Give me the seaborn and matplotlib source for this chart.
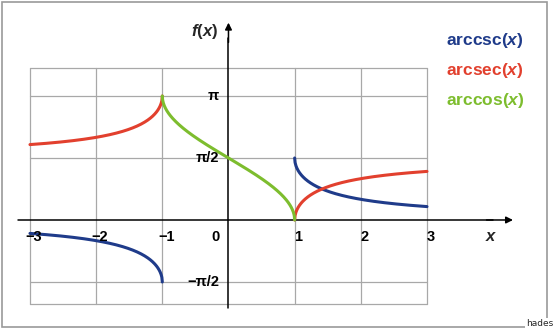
import numpy as np
import pandas as pd
import matplotlib
matplotlib.use("Agg")
import matplotlib.pyplot as plt
from matplotlib.patches import Rectangle
import seaborn as sns

sns.set_style("white")
plt.rcParams["font.family"] = ["Liberation Sans", "DejaVu Sans"]
plt.rcParams["mathtext.fontset"] = "custom"
plt.rcParams["mathtext.it"] = "Liberation Sans:bold:italic"
plt.rcParams["mathtext.rm"] = "Liberation Sans:bold"

# ---- data -------------------------------------------------------------
x_ticks = [-3, -2, -1, 1, 2, 3]
x_tick_labels = ["\u22123", "\u22122", "\u22121", "1", "2", "3"]
y_ticks = [np.pi, np.pi / 2, -np.pi / 2]
y_tick_labels = ["\u03c0", "\u03c0/2", "\u2212\u03c0/2"]
func_names = ["arccsc", "arcsec", "arccos"]
func_colors = ["#1f3b8a", "#e2402e", "#7dbd2e"]
x_neg = np.linspace(-3, -1, 300)   # |x| >= 1, left branch
x_pos = np.linspace(1, 3, 300)     # |x| >= 1, right branch
x_mid = np.linspace(-1, 1, 400)    # arccos domain


def arccsc(x):
    return np.arcsin(1.0 / x)


def arcsec(x):
    return np.arccos(1.0 / x)


segments = pd.DataFrame({
    "x": np.concatenate([x_neg, x_pos, x_neg, x_pos, x_mid]),
    "y": np.concatenate([arccsc(x_neg), arccsc(x_pos),
                         arcsec(x_neg), arcsec(x_pos), np.arccos(x_mid)]),
    "seg": np.repeat(["csc_l", "csc_r", "sec_l", "sec_r", "cos"],
                     [300, 300, 300, 300, 400]),
})
seg_colors = {"csc_l": func_colors[0], "csc_r": func_colors[0],
              "sec_l": func_colors[1], "sec_r": func_colors[1],
              "cos": func_colors[2]}

grid_box = (-3, 3, -2.13, 3.85)

# ---- figure -----------------------------------------------------------
fig = plt.figure(figsize=(5.57, 3.29), dpi=100)
ax = fig.add_axes([0, 0, 1, 1])
ax.set_xlim(-3.453, 4.965)
ax.set_ylim(-2.762, 5.574)
ax.axis("off")

grid_kw = dict(color="#a8a8a8", linewidth=0.9, zorder=1)
x0, x1, y0, y1 = grid_box
for xv in x_ticks:
    ax.plot([xv, xv], [y0, y1], **grid_kw)
for yv in [y0, y1] + y_ticks:
    ax.plot([x0, x1], [yv, yv], **grid_kw)

# axes with arrow heads
ax.plot([0, 0], [-2.22, 4.6], color="black", linewidth=1.1, zorder=2)
ax.plot([-3.18, 4.0], [0, 0], color="black", linewidth=1.1, zorder=2)
ax.annotate("", xy=(0, 5.0), xytext=(0, 4.5),
            arrowprops=dict(arrowstyle="-|>", color="black", lw=1.1,
                            mutation_scale=10, shrinkA=0, shrinkB=0))
ax.annotate("", xy=(4.3, 0), xytext=(3.9, 0),
            arrowprops=dict(arrowstyle="-|>", color="black", lw=1.1,
                            mutation_scale=10, shrinkA=0, shrinkB=0))

# curves
for seg, grp in segments.groupby("seg", sort=False):
    sns.lineplot(data=grp, x="x", y="y", ax=ax, color=seg_colors[seg],
                 linewidth=2.2, sort=False, estimator=None, zorder=3,
                 legend=False)
ax.axis("off")

# tick labels
lab_kw = dict(fontsize=10.5, fontweight="bold", color="black", zorder=4)
for xv, lab in zip(x_ticks, x_tick_labels):
    ax.text(xv + 0.06, -0.43, lab, ha="center", va="center", **lab_kw)
ax.text(-0.19, -0.43, "0", ha="center", va="center", **lab_kw)
for yv, lab in zip(y_ticks, y_tick_labels):
    ax.text(-0.14, yv, lab, ha="right", va="center", **lab_kw)
ax.text(3.97, -0.43, "$x$", ha="center", va="center", fontsize=12)
ax.text(-0.15, 4.78, "$f(x)$", ha="right", va="center", fontsize=12)

# function names
for i, (name, col) in enumerate(zip(func_names, func_colors)):
    ax.text(3.29, 4.56 - 0.76 * i, name + "($x$)", ha="left", va="center",
            fontsize=12.5, fontweight="bold", color=col)

# outer frame and credit
fig.patches.append(Rectangle((2 / 557, 2 / 329), 545 / 557, 325 / 329,
                             transform=fig.transFigure, fill=False,
                             edgecolor="#9a9a9a", linewidth=1.2))
fig.text(553 / 557, 1 / 329, "hades", ha="right", va="bottom", fontsize=6.5,
         family="Liberation Sans Narrow",
         bbox=dict(facecolor="white", edgecolor="none", pad=0.6))

fig.savefig("out.png", dpi=100)
